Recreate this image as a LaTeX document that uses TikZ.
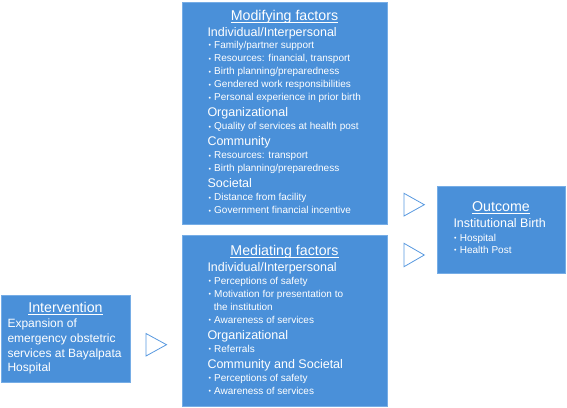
\documentclass[tikz,border=0pt]{standalone}
\usepackage{fontspec}
\setmainfont{Liberation Sans}
\definecolor{boxblue}{RGB}{74,144,217}
\definecolor{edgeblue}{RGB}{118,173,230}
\definecolor{triblue}{RGB}{88,153,224}
\newcommand{\bl}{\makebox[5.7pt][l]{\fontsize{7}{7}\selectfont\raisebox{0.6pt}{•}}}
\tikzset{
  box/.style={fill=boxblue, draw=edgeblue, line width=0.6pt, inner sep=0pt, anchor=north west},
  ttl/.style={text=white, inner sep=0pt, anchor=base, font=\fontsize{14.2}{17}\selectfont},
  hd/.style={text=white, inner sep=0pt, anchor=base west, font=\fontsize{12.5}{15}\selectfont},
  itm/.style={text=white, inner sep=0pt, anchor=base west, font=\fontsize{10}{12}\selectfont},
  bd/.style={text=white, inner sep=0pt, anchor=base west, font=\fontsize{12}{14}\selectfont},
  uline/.style={white, line width=0.6pt},
  tri/.style={draw=triblue, fill=white, line width=0.8pt, line join=miter}
}
\begin{document}
\begin{tikzpicture}[x=1pt, y=-1pt]
\fill[white] (0,0) rectangle (567,407);
\useasboundingbox (0,0) rectangle (567,407);

% boxes
\node[box, minimum width=205pt, minimum height=222pt] (mod) at (182,2) {};
\node[box, minimum width=205pt, minimum height=170.5pt] (med) at (182,235) {};
\node[box, minimum width=129pt, minimum height=87pt] (int) at (1,295) {};
\node[box, minimum width=128.5pt, minimum height=86.5pt] (out) at (436.5,186) {};

% arrow triangles
\draw[tri] (146,333.5) -- (166.5,344.7) -- (146,356) -- cycle;
\draw[tri] (404,193.3) -- (424.3,204.7) -- (404,216) -- cycle;
\draw[tri] (404,243.3) -- (424.3,255) -- (404,266.7) -- cycle;

% Modifying factors
\node[ttl] (modt) at (284.5,20.7) {Modifying factors};
\draw[uline] ([yshift=-1.8pt]modt.base west) -- ([yshift=-1.8pt]modt.base east);
\node[hd]  (m1)  at (207.3,36)    {Individual/Interpersonal};
\node[itm] (m2)  at (208.3,48.3)  {\bl Family/partner support};
\node[itm] (m3)  at (208.3,61.7)  {\bl Resources: financial, transport};
\node[itm] (m4)  at (208.3,74.7)  {\bl Birth planning/preparedness};
\node[itm] (m5)  at (208.3,87.7)  {\bl Gendered work responsibilities};
\node[itm] (m6)  at (208.3,100.7) {\bl Personal experience in prior birth};
\node[hd]  (m7)  at (207.3,116.7) {Organizational};
\node[itm] (m8)  at (208.3,129.7) {\bl Quality of services at health post};
\node[hd]  (m9)  at (207.3,145.7) {Community};
\node[itm] (m10) at (208.3,158.7) {\bl Resources: transport};
\node[itm] (m11) at (208.3,171.7) {\bl Birth planning/preparedness};
\node[hd]  (m12) at (207.3,187.7) {Societal};
\node[itm] (m13) at (208.3,200.7) {\bl Distance from facility};
\node[itm] (m14) at (208.3,213.7) {\bl Government financial incentive};

% Mediating factors
\node[ttl] (medt) at (284.5,255) {Mediating factors};
\draw[uline] ([yshift=-1.8pt]medt.base west) -- ([yshift=-1.8pt]medt.base east);
\node[hd]  (d1)  at (207.3,271.7) {Individual/Interpersonal};
\node[itm] (d2)  at (208.3,284.3) {\bl Perceptions of safety};
\node[itm] (d3)  at (208.3,297.3) {\bl Motivation for presentation to};
\node[itm] (d4)  at (213.6,310.3) {the institution};
\node[itm] (d5)  at (208.3,323.3) {\bl Awareness of services};
\node[hd]  (d6)  at (207.3,339.3) {Organizational};
\node[itm] (d7)  at (208.3,352.3) {\bl Referrals};
\node[hd]  (d8)  at (207.3,368.3) {Community and Societal};
\node[itm] (d9)  at (208.3,381.3) {\bl Perceptions of safety};
\node[itm] (d10) at (208.3,394.3) {\bl Awareness of services};

% Intervention
\node[ttl] (intt) at (65.5,312.3) {Intervention};
\draw[uline] ([yshift=-1.8pt]intt.base west) -- ([yshift=-1.8pt]intt.base east);
\node[bd] (i1) at (7.3,327.7) {Expansion of};
\node[bd] (i2) at (7.3,342.8) {emergency obstetric};
\node[bd] (i3) at (7.3,357.3) {services at Bayalpata};
\node[bd] (i4) at (7.3,371.7) {Hospital};

% Outcome
\node[ttl] (outt) at (501,211.7) {Outcome};
\draw[uline] ([yshift=-1.8pt]outt.base west) -- ([yshift=-1.8pt]outt.base east);
\node[hd]  (o1) at (453.3,227.7) {Institutional Birth};
\node[itm] (o2) at (454,241)     {\bl Hospital};
\node[itm] (o3) at (454,253.5)   {\bl Health Post};
\end{tikzpicture}
\end{document}
